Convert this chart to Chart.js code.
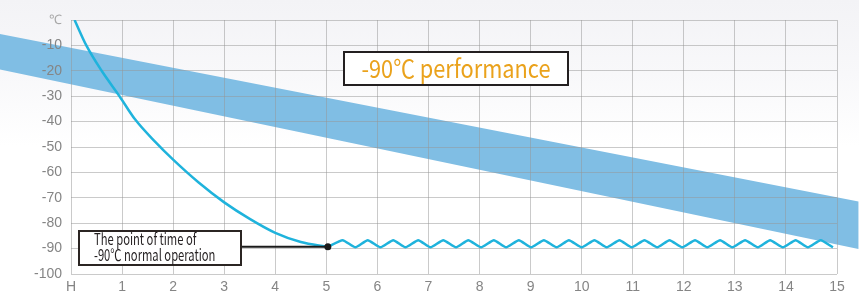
<!DOCTYPE html>
<html>
<head>
<meta charset="utf-8">
<script src="https://cdn.jsdelivr.net/npm/chart.js@4.4.1/dist/chart.umd.min.js"></script>
<style>
  html, body { margin: 0; padding: 0; }
  body {
    width: 859px; height: 293px; position: relative; overflow: hidden;
    background: linear-gradient(#f3f3f6 0%, #f8f8fa 25%, #ffffff 50%);
  }
  #contenedor { position: absolute; left: 0; top: 0; width: 859px; height: 293px; }
  #rendimiento {
    position: absolute; left: 343px; top: 51px; width: 226px; height: 35px;
    box-sizing: border-box; border: 2px solid #231f20; background: #fff;
  }
  #rendimiento span {
    position: absolute; left: 0; right: 0; top: -4px; text-align: center; white-space: nowrap;
    font-family: "Noto Sans CJK KR", "Noto Sans", sans-serif;
    font-size: 25px; line-height: 36px; color: #eaa21c;
    transform: scaleX(0.87);
  }
  #nota {
    position: absolute; left: 78px; top: 230px; width: 164px; height: 36px;
    box-sizing: border-box; border: 2px solid #2b2523; background: #fff;
  }
  #nota span {
    position: absolute; left: 14px; top: -2px; white-space: nowrap;
    font-family: "Noto Sans CJK KR", "Noto Sans", sans-serif;
    font-size: 16px; line-height: 16px; color: #231f20;
    transform: scaleX(0.7); transform-origin: 0 0;
  }
</style>
</head>
<body>
<div id="contenedor"><canvas id="grafica"></canvas></div>
<div id="rendimiento"><span>-90℃ performance</span></div>
<div id="nota"><span>The point of time of<br>-90℃ normal operation</span></div>
<script>
  // Curva de enfriamiento (horas, °C)
  const horasCurva = [0.07, 0.3, 0.6, 0.95, 1.25, 1.65, 2, 2.5, 3, 3.5, 4, 4.5, 5.03];
  const tempCurva = [0, -10, -20, -30, -39, -48, -55, -64, -71.8, -78.3, -83.8, -87.4, -89.3];

  // Oscilación a -90℃ en operación normal
  const horasOnda = [5.03, 5.32, 5.57, 5.81, 6.06, 6.31, 6.55, 6.80, 7.04, 7.29, 7.54,
    7.78, 8.03, 8.28, 8.52, 8.77, 9.01, 9.26, 9.51, 9.75, 10.00, 10.25, 10.49, 10.74,
    10.98, 11.23, 11.48, 11.72, 11.97, 12.22, 12.46, 12.71, 12.95, 13.20, 13.45, 13.69,
    13.94, 14.19, 14.43, 14.68, 14.92];
  const tempOnda = [-89.3, -86.7, -89.5, -86.7, -89.5, -86.7, -89.5, -86.7, -89.5, -86.7, -89.5,
    -86.7, -89.5, -86.7, -89.5, -86.7, -89.5, -86.7, -89.5, -86.7, -89.5, -86.7, -89.5, -86.7,
    -89.5, -86.7, -89.5, -86.7, -89.5, -86.7, -89.5, -86.7, -89.5, -86.7, -89.5, -86.7,
    -89.5, -86.7, -89.5, -86.7, -89.5];

  // Banda azul (sale del área de la gráfica por ambos lados)
  const horasBanda = [-1.4, 15.42];
  const bandaSuperior = [-5.5, -71.5];
  const bandaInferior = [-19.4, -90.2];

  // Línea desde la nota hasta el punto de -90℃
  const horasConector = [3.32, 5.03];
  const tempConector = [-89.3, -89.3];

  const etiquetasX = ["H", "1", "2", "3", "4", "5", "6", "7", "8", "9", "10", "11", "12", "13", "14", "15"];
  const etiquetasY = ["℃", "-10", "-20", "-30", "-40", "-50", "-60", "-70", "-80", "-90", "-100"];

  const puntos = (xs, ys) => xs.map((x, i) => ({ x: x, y: ys[i] }));

  // Rellena la banda con los puntos ya escalados por Chart.js, antes de la rejilla
  const bandaCompleta = {
    id: "bandaCompleta",
    beforeDraw(chart) {
      const sup = chart.getDatasetMeta(3).data;
      const inf = chart.getDatasetMeta(4).data;
      const c = chart.ctx;
      c.save();
      c.fillStyle = "#80bee4";
      c.beginPath();
      sup.forEach((p, i) => (i ? c.lineTo(p.x, p.y) : c.moveTo(p.x, p.y)));
      inf.slice().reverse().forEach(p => c.lineTo(p.x, p.y));
      c.closePath();
      c.fill();
      c.restore();
    },
  };

  const ctx = document.getElementById("grafica").getContext("2d");
  const colorCurva = "#1fb3dc";

  new Chart(ctx, {
    type: "line",
    data: {
      datasets: [
        {
          data: puntos(horasConector, tempConector),
          borderColor: "#1a1a1a",
          borderWidth: 2,
          pointRadius: c => (c.dataIndex === 1 ? 3.5 : 0),
          pointBackgroundColor: "#1a1a1a",
          pointBorderWidth: 0,
          order: 1,
        },
        {
          data: puntos(horasCurva, tempCurva),
          borderColor: colorCurva,
          borderWidth: 2.5,
          pointRadius: 0,
          cubicInterpolationMode: "monotone",
          order: 2,
        },
        {
          data: puntos(horasOnda, tempOnda),
          borderColor: colorCurva,
          borderWidth: 2.5,
          pointRadius: 0,
          tension: 0.15,
          order: 2,
        },
        {
          data: puntos(horasBanda, bandaSuperior),
          borderWidth: 0,
          borderColor: "rgba(0,0,0,0)",
          pointRadius: 0,
          fill: false,
          clip: false,
          order: 10,
        },
        {
          data: puntos(horasBanda, bandaInferior),
          borderWidth: 0,
          borderColor: "rgba(0,0,0,0)",
          pointRadius: 0,
          fill: false,
          clip: false,
          order: 11,
        },
      ],
    },
    options: {
      responsive: true,
      maintainAspectRatio: false,
      animation: false,
      layout: { padding: { left: 0, right: 22, top: 20, bottom: 0 } },
      plugins: {
        legend: { display: false },
        tooltip: { enabled: false },
      },
      scales: {
        x: {
          type: "linear",
          min: 0,
          max: 15,
          border: { display: false },
          grid: { color: "rgba(150,150,150,0.5)", drawTicks: false },
          ticks: {
            stepSize: 1,
            padding: 5,
            color: "#858585",
            font: { family: "Liberation Sans", size: 14 },
            callback: valor => etiquetasX[valor],
          },
          afterFit: escala => { escala.height = 19; },
        },
        y: {
          min: -100,
          max: 0,
          border: { display: false },
          grid: { color: "rgba(150,150,150,0.5)", drawTicks: false },
          ticks: {
            stepSize: 10,
            padding: 9,
            color: c => (c.tick && c.tick.value === 0 ? "#a8a8a8" : "#858585"),
            font: c => ({ family: "Liberation Sans", size: c.tick && c.tick.value === 0 ? 13 : 14 }),
            callback: valor => etiquetasY[Math.round(-valor / 10)],
          },
          afterFit: escala => { escala.width = 71; },
        },
      },
    },
    plugins: [bandaCompleta],
  });
</script>
</body>
</html>
